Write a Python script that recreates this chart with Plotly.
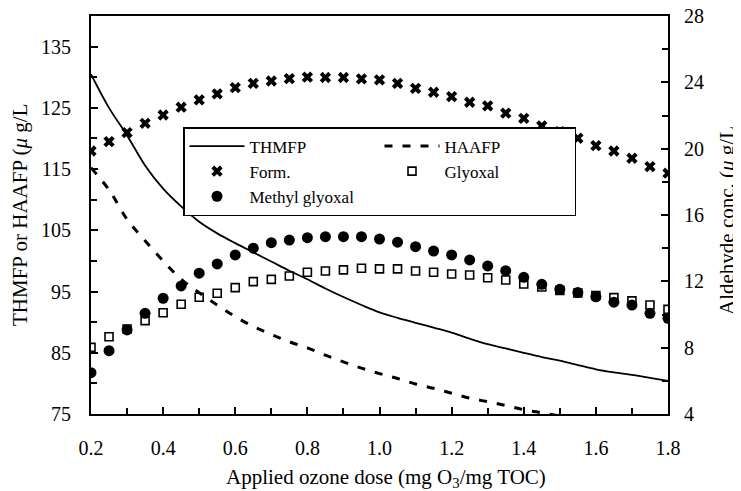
import plotly.graph_objects as go

# Applied ozone dose (mg O3 / mg TOC)
dose = [0.20, 0.25, 0.30, 0.35, 0.40, 0.45, 0.50, 0.55, 0.60, 0.65, 0.70,
        0.75, 0.80, 0.85, 0.90, 0.95, 1.00, 1.05, 1.10, 1.15, 1.20, 1.25,
        1.30, 1.35, 1.40, 1.45, 1.50, 1.55, 1.60, 1.65, 1.70, 1.75, 1.80]

# Left axis (ug/L)
thmfp = [130.5, 125.0, 120.5, 115.6, 111.8, 108.9, 106.4, 104.5, 102.9, 101.4, 99.9,
         98.4, 97.0, 95.5, 94.1, 92.8, 91.6, 90.7, 89.9, 89.1, 88.3, 87.3,
         86.4, 85.7, 85.0, 84.3, 83.7, 83.0, 82.3, 81.8, 81.4, 80.9, 80.4]
dose_haa = [0.20, 0.25, 0.30, 0.35, 0.40, 0.45, 0.50, 0.55, 0.60, 0.65, 0.70,
            0.75, 0.80, 0.85, 0.90, 0.95, 1.00, 1.05, 1.10, 1.15, 1.20, 1.25,
            1.30, 1.35, 1.40, 1.45, 1.50]
haafp = [115.2, 111.6, 106.8, 103.3, 100.0, 97.0, 94.8, 92.8, 90.9, 89.3, 88.0,
         86.8, 85.8, 84.6, 83.5, 82.5, 81.6, 80.8, 79.9, 79.2, 78.4, 77.6,
         77.0, 76.4, 75.7, 75.2, 74.7]

# Right axis: aldehyde conc. (ug/L)
form = [19.86, 20.42, 20.97, 21.53, 22.03, 22.50, 22.94, 23.30, 23.68, 23.94, 24.08,
        24.22, 24.31, 24.29, 24.29, 24.21, 24.15, 23.94, 23.64, 23.40, 23.14, 22.80,
        22.58, 22.14, 21.83, 21.37, 21.03, 20.63, 20.18, 19.86, 19.42, 18.92, 18.52]
methyl_glyoxal = [6.49, 7.82, 9.07, 10.07, 10.98, 11.72, 12.49, 13.05, 13.59, 14.00, 14.33,
                  14.49, 14.63, 14.69, 14.69, 14.69, 14.55, 14.36, 14.09, 13.83, 13.59, 13.29,
                  12.93, 12.64, 12.24, 11.82, 11.52, 11.32, 11.07, 10.74, 10.57, 10.07, 9.77]
glyoxal = [8.02, 8.66, 9.13, 9.63, 10.11, 10.62, 11.04, 11.28, 11.62, 11.98, 12.12,
           12.32, 12.55, 12.62, 12.69, 12.79, 12.75, 12.75, 12.62, 12.55, 12.44, 12.38,
           12.22, 12.08, 11.84, 11.66, 11.45, 11.30, 11.15, 11.02, 10.82, 10.57, 10.31]

x_ticks = [0.2, 0.4, 0.6, 0.8, 1.0, 1.2, 1.4, 1.6, 1.8]
x_ticklabels = ["0.2", "0.4", "0.6", "0.8", "1.0", "1.2", "1.4", "1.6", "1.8"]

FONT = "Liberation Serif, Times New Roman, serif"

fig = go.Figure()
fig.add_trace(go.Scatter(x=dose, y=thmfp, mode="lines", name="THMFP",
                         line=dict(color="black", width=1.8, shape="spline"),
                         legendrank=1, yaxis="y"))
fig.add_trace(go.Scatter(x=dose_haa, y=haafp, mode="lines", name="HAAFP",
                         line=dict(color="black", width=3, dash="8px,10px", shape="spline"),
                         legendrank=2, yaxis="y"))
fig.add_trace(go.Scatter(x=dose, y=form, mode="markers", name="Form.",
                         marker=dict(symbol="x", size=10, color="black",
                                     line=dict(width=0)),
                         legendrank=3, yaxis="y2"))
fig.add_trace(go.Scatter(x=dose, y=methyl_glyoxal, mode="markers", name="Methyl glyoxal",
                         marker=dict(symbol="circle", size=11, color="black"),
                         legendrank=5, yaxis="y2"))
fig.add_trace(go.Scatter(x=dose, y=glyoxal, mode="markers", name="Glyoxal",
                         marker=dict(symbol="square-open", size=8, color="black",
                                     line=dict(width=1.6)),
                         legendrank=4, yaxis="y2"))

axis_common = dict(showgrid=False, zeroline=False, linecolor="black", linewidth=2,
                   ticks="inside", tickcolor="black", tickwidth=1.5, ticklen=7,
                   automargin=False, ticklabeloverflow="allow",
                   tickfont=dict(family=FONT, size=20, color="black"))

# The page body has an 8px margin, so the figure is sized to fit the window.
OFF = 8
W, H = 741 - OFF, 491 - OFF
L, R, T, B = 83, 73, 8, 77
PW, PH = W - L - R, H - T - B


def px_x(px):
    return (px - OFF - L) / PW


def px_y(py):
    return (H - B - (py - OFF)) / PH


fig.update_layout(
    width=W, height=H,
    margin=dict(l=L, r=R, t=T, b=B, autoexpand=False),
    paper_bgcolor="white", plot_bgcolor="white",
    font=dict(family=FONT, color="black"),
    xaxis=dict(range=[0.2, 1.8], tickvals=x_ticks, ticktext=x_ticklabels,
               mirror=True, ticklabelstandoff=15,
               minor=dict(dtick=0.1, tick0=0.2, ticks="inside", ticklen=6,
                          tickcolor="black", tickwidth=1.5),
               **axis_common),
    yaxis=dict(range=[75, 140], tick0=75, dtick=10, ticklabelstandoff=14,
               minor=dict(dtick=5, tick0=75, ticks="inside", ticklen=6,
                          tickcolor="black", tickwidth=1.5),
               **axis_common),
    yaxis2=dict(range=[4, 28], tick0=4, dtick=4, overlaying="y", side="right",
                ticklabelstandoff=10,
                minor=dict(dtick=2, tick0=4, ticks="inside", ticklen=6,
                           tickcolor="black", tickwidth=1.5),
                **axis_common),
    legend=dict(x=px_x(183), y=px_y(127), xanchor="left", yanchor="top",
                orientation="h", entrywidth=125, entrywidthmode="pixels",
                itemwidth=55, bgcolor="white", bordercolor="black", borderwidth=1.5,
                font=dict(family=FONT, size=17, color="black")),
    showlegend=True,
    annotations=[
        dict(text="Applied ozone dose (mg O<sub>3</sub>/mg TOC)", xref="paper", yref="paper",
             x=px_x(386), y=px_y(478), showarrow=False,
             font=dict(family=FONT, size=21, color="black"), xanchor="center", yanchor="middle"),
        dict(text="THMFP or HAAFP (<i>μ</i> g/L", xref="paper", yref="paper",
             x=px_x(20), y=px_y(215), showarrow=False, textangle=-90,
             font=dict(family=FONT, size=21, color="black"), xanchor="center", yanchor="middle"),
        dict(text="Aldehyde conc. (<i>μ</i> g/L", xref="paper", yref="paper",
             x=px_x(727), y=px_y(221), showarrow=False, textangle=-90,
             font=dict(family=FONT, size=21, color="black"), xanchor="center", yanchor="middle"),
    ],
)

fig.write_html("out.html")
